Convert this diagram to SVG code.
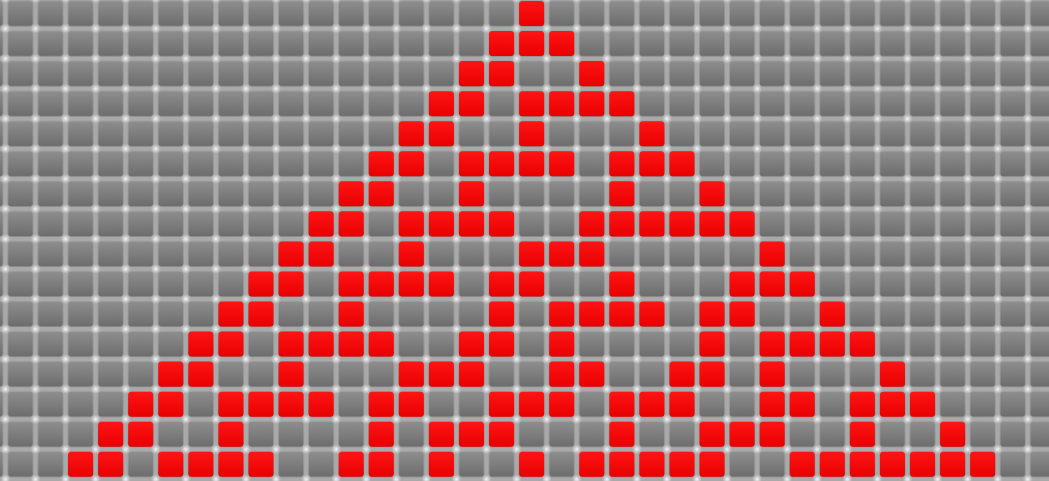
<svg xmlns="http://www.w3.org/2000/svg" width="1049" height="481" viewBox="0 0 1049 481">
<style>
.on{fill:url(#red)}
</style>
<defs>
<linearGradient id="gray" x1="0" y1="0" x2="0" y2="1">
<stop offset="0" stop-color="#8e8e8e"/>
<stop offset="1" stop-color="#6c6c6c"/>
</linearGradient>
<linearGradient id="red" x1="0" y1="0" x2="0" y2="1">
<stop offset="0" stop-color="#ff1414"/>
<stop offset="1" stop-color="#e80000"/>
</linearGradient>
<radialGradient id="dot">
<stop offset="0" stop-color="#ffffff" stop-opacity="0.95"/>
<stop offset="0.5" stop-color="#eeeeee" stop-opacity="0.5"/>
<stop offset="1" stop-color="#cccccc" stop-opacity="0"/>
</radialGradient>
<pattern id="grid" patternUnits="userSpaceOnUse" x="-2.5" y="-2.5" width="30" height="30">
<rect width="30" height="30" fill="#a9a9a9"/>
<rect x="2.5" y="2.5" width="25" height="25" rx="3" fill="url(#gray)"/>
<circle cx="0" cy="0" r="5" fill="url(#dot)"/>
<circle cx="30" cy="0" r="5" fill="url(#dot)"/>
<circle cx="0" cy="30" r="5" fill="url(#dot)"/>
<circle cx="30" cy="30" r="5" fill="url(#dot)"/>
</pattern>
<filter id="soft" x="-1%" y="-1%" width="102%" height="102%">
<feGaussianBlur stdDeviation="0.7"/>
</filter>
<rect id="c" width="25" height="25" rx="3.5"/>
</defs>
<rect width="1049" height="481" fill="#a9a9a9"/>
<g transform="translate(7.9,1) scale(1.00233,1.00167)">
<rect x="-40" y="-40" width="1100" height="540" fill="url(#grid)" filter="url(#soft)"/>
<g id="row-0" class="on"><use href="#c" x="510" y="0"/></g>
<g id="row-1" class="on"><use href="#c" x="480" y="30"/><use href="#c" x="510" y="30"/><use href="#c" x="540" y="30"/></g>
<g id="row-2" class="on"><use href="#c" x="450" y="60"/><use href="#c" x="480" y="60"/><use href="#c" x="570" y="60"/></g>
<g id="row-3" class="on"><use href="#c" x="420" y="90"/><use href="#c" x="450" y="90"/><use href="#c" x="510" y="90"/><use href="#c" x="540" y="90"/><use href="#c" x="570" y="90"/><use href="#c" x="600" y="90"/></g>
<g id="row-4" class="on"><use href="#c" x="390" y="120"/><use href="#c" x="420" y="120"/><use href="#c" x="510" y="120"/><use href="#c" x="630" y="120"/></g>
<g id="row-5" class="on"><use href="#c" x="360" y="150"/><use href="#c" x="390" y="150"/><use href="#c" x="450" y="150"/><use href="#c" x="480" y="150"/><use href="#c" x="510" y="150"/><use href="#c" x="540" y="150"/><use href="#c" x="600" y="150"/><use href="#c" x="630" y="150"/><use href="#c" x="660" y="150"/></g>
<g id="row-6" class="on"><use href="#c" x="330" y="180"/><use href="#c" x="360" y="180"/><use href="#c" x="450" y="180"/><use href="#c" x="600" y="180"/><use href="#c" x="690" y="180"/></g>
<g id="row-7" class="on"><use href="#c" x="300" y="210"/><use href="#c" x="330" y="210"/><use href="#c" x="390" y="210"/><use href="#c" x="420" y="210"/><use href="#c" x="450" y="210"/><use href="#c" x="480" y="210"/><use href="#c" x="570" y="210"/><use href="#c" x="600" y="210"/><use href="#c" x="630" y="210"/><use href="#c" x="660" y="210"/><use href="#c" x="690" y="210"/><use href="#c" x="720" y="210"/></g>
<g id="row-8" class="on"><use href="#c" x="270" y="240"/><use href="#c" x="300" y="240"/><use href="#c" x="390" y="240"/><use href="#c" x="510" y="240"/><use href="#c" x="540" y="240"/><use href="#c" x="570" y="240"/><use href="#c" x="750" y="240"/></g>
<g id="row-9" class="on"><use href="#c" x="240" y="270"/><use href="#c" x="270" y="270"/><use href="#c" x="330" y="270"/><use href="#c" x="360" y="270"/><use href="#c" x="390" y="270"/><use href="#c" x="420" y="270"/><use href="#c" x="480" y="270"/><use href="#c" x="510" y="270"/><use href="#c" x="600" y="270"/><use href="#c" x="720" y="270"/><use href="#c" x="750" y="270"/><use href="#c" x="780" y="270"/></g>
<g id="row-10" class="on"><use href="#c" x="210" y="300"/><use href="#c" x="240" y="300"/><use href="#c" x="330" y="300"/><use href="#c" x="480" y="300"/><use href="#c" x="540" y="300"/><use href="#c" x="570" y="300"/><use href="#c" x="600" y="300"/><use href="#c" x="630" y="300"/><use href="#c" x="690" y="300"/><use href="#c" x="720" y="300"/><use href="#c" x="810" y="300"/></g>
<g id="row-11" class="on"><use href="#c" x="180" y="330"/><use href="#c" x="210" y="330"/><use href="#c" x="270" y="330"/><use href="#c" x="300" y="330"/><use href="#c" x="330" y="330"/><use href="#c" x="360" y="330"/><use href="#c" x="450" y="330"/><use href="#c" x="480" y="330"/><use href="#c" x="540" y="330"/><use href="#c" x="690" y="330"/><use href="#c" x="750" y="330"/><use href="#c" x="780" y="330"/><use href="#c" x="810" y="330"/><use href="#c" x="840" y="330"/></g>
<g id="row-12" class="on"><use href="#c" x="150" y="360"/><use href="#c" x="180" y="360"/><use href="#c" x="270" y="360"/><use href="#c" x="390" y="360"/><use href="#c" x="420" y="360"/><use href="#c" x="450" y="360"/><use href="#c" x="540" y="360"/><use href="#c" x="570" y="360"/><use href="#c" x="660" y="360"/><use href="#c" x="690" y="360"/><use href="#c" x="750" y="360"/><use href="#c" x="870" y="360"/></g>
<g id="row-13" class="on"><use href="#c" x="120" y="390"/><use href="#c" x="150" y="390"/><use href="#c" x="210" y="390"/><use href="#c" x="240" y="390"/><use href="#c" x="270" y="390"/><use href="#c" x="300" y="390"/><use href="#c" x="360" y="390"/><use href="#c" x="390" y="390"/><use href="#c" x="480" y="390"/><use href="#c" x="510" y="390"/><use href="#c" x="540" y="390"/><use href="#c" x="600" y="390"/><use href="#c" x="630" y="390"/><use href="#c" x="660" y="390"/><use href="#c" x="750" y="390"/><use href="#c" x="780" y="390"/><use href="#c" x="840" y="390"/><use href="#c" x="870" y="390"/><use href="#c" x="900" y="390"/></g>
<g id="row-14" class="on"><use href="#c" x="90" y="420"/><use href="#c" x="120" y="420"/><use href="#c" x="210" y="420"/><use href="#c" x="360" y="420"/><use href="#c" x="420" y="420"/><use href="#c" x="450" y="420"/><use href="#c" x="480" y="420"/><use href="#c" x="600" y="420"/><use href="#c" x="690" y="420"/><use href="#c" x="720" y="420"/><use href="#c" x="750" y="420"/><use href="#c" x="840" y="420"/><use href="#c" x="930" y="420"/></g>
<g id="row-15" class="on"><use href="#c" x="60" y="450"/><use href="#c" x="90" y="450"/><use href="#c" x="150" y="450"/><use href="#c" x="180" y="450"/><use href="#c" x="210" y="450"/><use href="#c" x="240" y="450"/><use href="#c" x="330" y="450"/><use href="#c" x="360" y="450"/><use href="#c" x="420" y="450"/><use href="#c" x="510" y="450"/><use href="#c" x="570" y="450"/><use href="#c" x="600" y="450"/><use href="#c" x="630" y="450"/><use href="#c" x="660" y="450"/><use href="#c" x="690" y="450"/><use href="#c" x="780" y="450"/><use href="#c" x="810" y="450"/><use href="#c" x="840" y="450"/><use href="#c" x="870" y="450"/><use href="#c" x="900" y="450"/><use href="#c" x="930" y="450"/><use href="#c" x="960" y="450"/></g>
</g>
</svg>
